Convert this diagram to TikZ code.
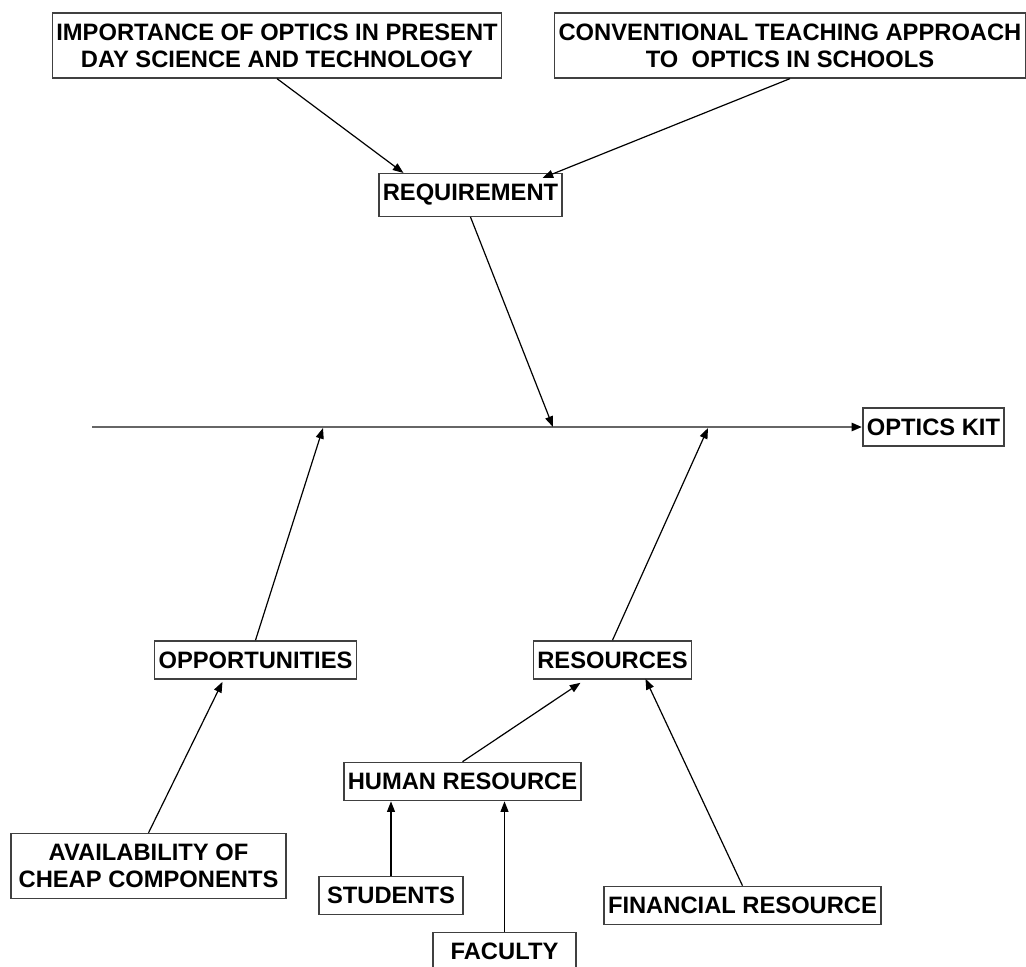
\documentclass[tikz,border=0pt]{standalone}
\usepackage{fontspec}
\setmainfont{Liberation Sans}
\usetikzlibrary{arrows.meta,calc}

\begin{document}
\begin{tikzpicture}[
		x=0.75pt, y=-0.75pt,
		% okvirji z napisi in puscice med njimi
		causebox/.style={draw=black!75, line width=1.1pt, fill=white,
			font=\fontsize{17.8}{20}\selectfont\bfseries, align=center,
			inner xsep=3pt, inner ysep=8pt, minimum height=27.5pt},
		causeline/.style={line width=0.9pt, -{Triangle[length=8pt,width=6pt]}},
		spineline/.style={draw=black!60, line width=2pt,
			-{Triangle[length=8pt,width=6pt,color=black]}}
		]
		\useasboundingbox (0,0) rectangle (1026,967);

		\node[causebox] (imp) at (277,45.5) {IMPORTANCE OF OPTICS IN PRESENT\\DAY SCIENCE AND TECHNOLOGY};
		\node[causebox] (conv) at (790,45.5) {CONVENTIONAL TEACHING APPROACH\\TO\ \ OPTICS IN SCHOOLS};
		\node[causebox] (req) at (470.5,195) {REQUIREMENT};
		\node[causebox] (kit) at (933.5,427) {OPTICS KIT};
		\node[causebox] (opp) at (255.5,660) {OPPORTUNITIES};
		\node[causebox] (res) at (612.5,660) {RESOURCES};
		\node[causebox] (hr) at (462.5,781.5) {HUMAN RESOURCE};
		\node[causebox, minimum width=206pt] (avail) at (148.5,866) {AVAILABILITY OF\\CHEAP COMPONENTS};
		\node[causebox, minimum width=108pt] (stud) at (391,895.5) {STUDENTS};
		\node[causebox, minimum width=107pt] (fac) at (504.5,951.5) {FACULTY};
		\node[causebox] (fin) at (742.5,905.5) {FINANCIAL RESOURCE};

		% glavna os
		\coordinate (tail) at (92,427);
		\coordinate (sOpp) at (323,428);
		\coordinate (sReq) at (553,427);
		\coordinate (sRes) at (708,428);
		\draw[spineline] (tail) -- (kit.west);

		\draw[causeline] (imp.south) -- ($(req.north)+(-67,0)$);
		\draw[causeline] (conv.south) -- ($(req.north)+(72,5)$);
		\draw[causeline] (req.south) -- (sReq);
		\draw[causeline] (opp.north) -- (sOpp);
		\draw[causeline] (res.north) -- (sRes);
		\draw[causeline] (avail.north) -- ($(opp.south)+(-33,2)$);
		\draw[causeline] (hr.north) -- ($(res.south)+(-32,3)$);
		\draw[causeline] (fin.north) -- ($(res.south)+(33,-1)$);
		\draw[causeline] (stud.north) -- (stud.north |- hr.south);
		\draw[causeline] (fac.north) -- ($(hr.south)+(42,0)$);
	\end{tikzpicture}
\end{document}
